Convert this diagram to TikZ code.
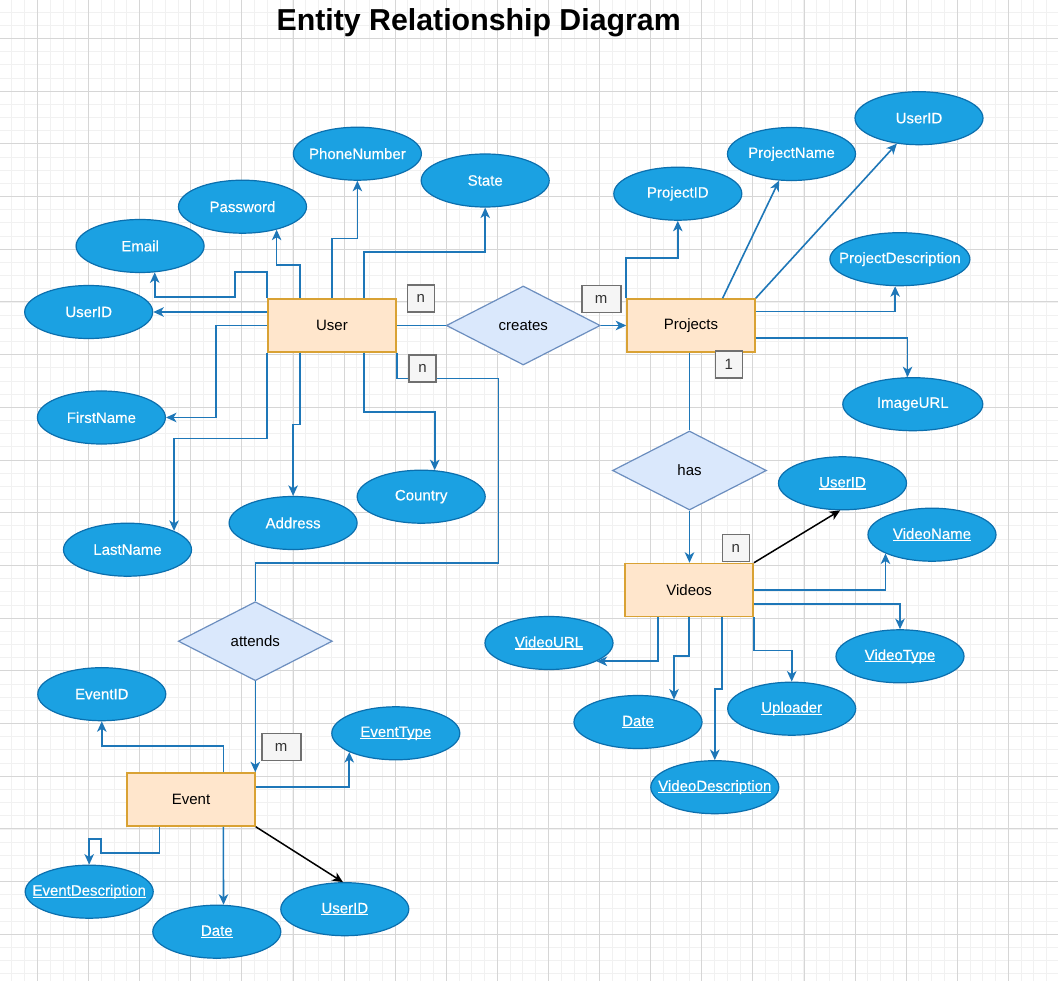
\documentclass[tikz,border=0pt]{standalone}
\usepackage{fontspec}
\setmainfont{Liberation Sans}
\newfontface\attface{Liberation Sans}[FakeBold=0.4]
\usetikzlibrary{shapes.geometric,arrows.meta,calc}

\definecolor{entfill}{HTML}{FFE6CC}
\definecolor{entdraw}{HTML}{D9A234}
\definecolor{attfill}{HTML}{1BA1E2}
\definecolor{attdraw}{HTML}{0B6FAE}
\definecolor{relfill}{HTML}{DAE8FC}
\definecolor{reldraw}{HTML}{6C8EBF}
\definecolor{wire}{HTML}{1E77B8}
\definecolor{lblfill}{HTML}{F5F5F5}
\definecolor{lbldraw}{HTML}{707070}
\definecolor{gridminor}{HTML}{F1F1F1}
\definecolor{gridmajor}{HTML}{D6D6D6}

\newcommand\attxt[1]{\makebox[0pt]{#1}}
\newcommand\ulattxt[1]{\makebox[0pt]{\setbox0=\hbox{#1}\rlap{\rule[-2.2pt]{\wd0}{1.1pt}}\box0}}

\begin{document}
\begin{tikzpicture}[x=1pt,y=-1pt,
  every node/.style={font=\fontsize{15}{18}\selectfont},
  entity/.style={rectangle, draw=entdraw, fill=entfill, line width=1.5pt, minimum width=128pt, minimum height=53pt, inner sep=0pt},
  attr/.style={ellipse, draw=attdraw, fill=attfill, line width=1.2pt, minimum width=128pt, minimum height=53pt, inner sep=0pt, text=white, font=\fontsize{15}{18}\attface},
  wideattr/.style={attr, minimum width=140pt},
  rel/.style={diamond, draw=reldraw, fill=relfill, line width=1.2pt, minimum width=154pt, minimum height=79pt, inner sep=0pt},
  card/.style={rectangle, draw=lbldraw, fill=lblfill, line width=1.6pt, minimum width=27pt, minimum height=27pt, inner sep=0pt, text=black!80},
  widecard/.style={card, minimum width=39pt},
  link/.style={draw=wire, line width=1.6pt},
  arr/.style={link, -{Stealth[length=10.5pt,width=9.5pt,inset=3pt]}},
  darr/.style={draw=black, line width=1.5pt, -{Stealth[length=10.5pt,width=9.5pt,inset=3pt]}},
  gminor/.style={draw=gridminor, line width=1pt},
  gmajor/.style={draw=gridmajor, line width=1pt}
]
\useasboundingbox (0,0) rectangle (1058,981);
\fill[white] (0,0) rectangle (1058,981);
% grid
\foreach \k in {-3,...,79} {\pgfmathsetmacro\gx{round(38+\k*12.775)-0.5}
  \draw[gminor] (\gx,0) -- (\gx,981);}
\foreach \k in {-2,...,71} {\pgfmathsetmacro\gy{round(39+\k*13.175)-0.5}
  \draw[gminor] (0,\gy) -- (1058,\gy);}
\foreach \k in {0,...,19} {\pgfmathsetmacro\gx{round(38+\k*51.1)-0.5}
  \draw[gmajor] (\gx,0) -- (\gx,981);}
\foreach \k in {0,...,17} {\pgfmathsetmacro\gy{round(39+\k*52.7)-0.5}
  \draw[gmajor] (0,\gy) -- (1058,\gy);}

% title
\node[anchor=base, font=\fontsize{30.3}{36}\selectfont\bfseries] (title) at (478.7,31) {Entity Relationship Diagram};

% entities and relationships
\node[entity] (user) at (332,325.5) {User};
\node[entity] (proj) at (691,325.5) {Projects};
\node[entity] (vid) at (689.2,590) {Videos};
\node[entity] (event) at (191,799.5) {Event};
\node[rel] (creates) at (523.3,325.5) {creates};
\node[rel] (has) at (689.5,470.5) {has};
\node[rel] (attends) at (255.3,641.2) {attends};

% user attributes
\node[attr] (uphone) at (357.4,153.7) {\attxt{PhoneNumber}};
\node[attr] (ustate) at (485.2,180.5) {\attxt{State}};
\node[attr] (upass) at (242.5,206.7) {\attxt{Password}};
\node[attr] (uemail) at (140.1,246) {\attxt{Email}};
\node[attr] (uid) at (88.7,312) {\attxt{UserID}};
\node[attr] (ufirst) at (101.4,417.5) {\attxt{FirstName}};
\node[attr] (ulast) at (127.5,549.7) {\attxt{LastName}};
\node[attr] (uaddr) at (293.1,523) {\attxt{Address}};
\node[attr] (ucountry) at (421.2,496.7) {\attxt{Country}};

% project attributes
\node[attr] (pid) at (677.8,193.7) {\attxt{ProjectID}};
\node[attr] (pname) at (791.5,154) {\attxt{ProjectName}};
\node[attr] (puid) at (919,118.2) {\attxt{UserID}};
\node[wideattr] (pdesc) at (899.9,259.2) {\attxt{ProjectDescription}};
\node[wideattr] (pimg) at (912.8,404.2) {\attxt{ImageURL}};

% video attributes
\node[attr] (vuid) at (842.5,483.3) {\ulattxt{UserID}};
\node[attr] (vname) at (932,534.7) {\ulattxt{VideoName}};
\node[attr] (vtype) at (900,656.3) {\ulattxt{VideoType}};
\node[attr] (vup) at (791.7,708.7) {\ulattxt{Uploader}};
\node[attr] (vdesc) at (714.8,787.2) {\ulattxt{VideoDescription}};
\node[attr] (vdate) at (638,722) {\ulattxt{Date}};
\node[attr] (vurl) at (549,643) {\ulattxt{VideoURL}};

% event attributes
\node[attr] (eid) at (101.8,694.2) {\attxt{EventID}};
\node[attr] (etype) at (395.8,733.3) {\ulattxt{EventType}};
\node[attr] (edesc) at (89.2,891.7) {\ulattxt{EventDescription}};
\node[attr] (edate) at (216.8,931.7) {\ulattxt{Date}};
\node[attr] (euid) at (344.8,909.2) {\ulattxt{UserID}};

% user connectors
\draw[arr] (user.west |- uid) -- (uid);
\draw[arr] (user.north west) -- ++(0,-26.3) -| ++(-32,25.3) -| (uemail.-61);
\draw[arr] ($(user.north)+(-32.1,0)$) -- ++(0,-33.3) -| (upass.-34);
\draw[arr] (user.north) -- ++(0,-59.7) -| (uphone.south);
\draw[arr] ($(user.north)+(31.8,0)$) -- ++(0,-46.3) -| (ustate.south);
\draw[arr] (user.west) -- ++(-51.3,0) |- (ufirst);
\draw[arr] (user.south west) -- ++(0,85.6) -| (ulast.22);
\draw[arr] ($(user.south)+(-32.1,0)$) -- ++(0,71.6) -| (uaddr.north);
\draw[arr] ($(user.south)+(31.8,0)$) -- ++(0,59) -| (ucountry.63);
\draw[link] (user.east) -- (creates.west);
\draw[arr] (creates.east) -- (proj.west);
\draw[link] (user.south east) -- ++(0,25.6) -| ++(101.6,184.4) -| (attends.north);

% project connectors
\draw[arr] (proj.north west) -- ++(0,-40) -| (pid.south);
\draw[arr] ($(proj.north)+(31.6,0)$) -- (pname.-115);
\draw[arr] (proj.north east) -- (puid.-131);
\draw[arr] ($(proj.east)+(0,-13.8)$) -| (pdesc.-100);
\draw[arr] ($(proj.east)+(0,12.8)$) -| (pimg.101);
\draw[link] (has.north |- proj.south) -- (has.north);
\draw[arr] (has.south) -- (has.south |- vid.north);

% video connectors
\draw[darr] (vid.north east) -- (vuid.-95);
\draw[arr] (vid.east) -| (vname.-158);
\draw[arr] ($(vid.east)+(0,14)$) -| (vtype.north);
\draw[arr] (vid.south east) -- ++(0,33.3) -| (vup.north);
\draw[arr] ($(vid.south)+(32.5,0)$) -- ++(0,71.8) -| (vdesc.north);
\draw[arr] (vid.south) -- ++(0,38.5) -| (vdate.32);
\draw[arr] ($(vid.south)+(-31.5,0)$) |- (vurl.-21);

% event connectors
\draw[arr] (attends.south) -- (attends.south |- event.north);
\draw[arr] ($(event.north)+(32.3,0)$) -- ++(0,-26.5) -| (eid.south);
\draw[arr] ($(event.east)+(0,-12.8)$) -| (etype.-158);
\draw[arr] ($(event.south)+(-31.7,0)$) -- ++(0,26) -| ++(-58.3,-13.6) -| (edesc.north);
\draw[arr] ($(event.south)+(32.3,0)$) -- (edate.76);
\draw[darr] (event.south east) -- (euid.94);

% cardinality labels
\node[card] (c1) at (420.8,298.8) {n};
\node[card] (c2) at (422.5,368.7) {n};
\node[widecard] (c3) at (601.2,299.2) {m};
\node[card] (c4) at (728.8,364.7) {1};
\node[card] (c5) at (735.8,548) {n};
\node[widecard] (c6) at (281.2,747) {m};
\end{tikzpicture}
\end{document}
